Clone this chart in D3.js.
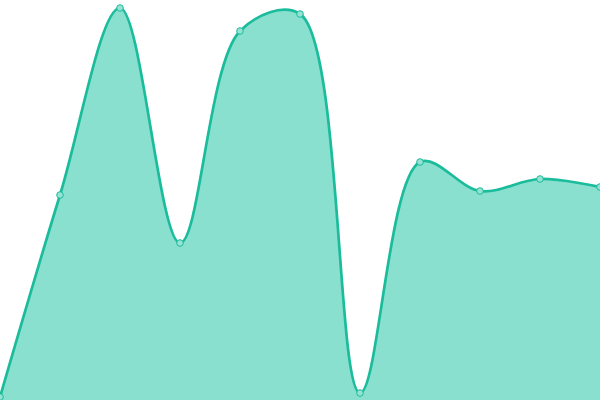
<!DOCTYPE html>
<html>
<head>
<meta charset="utf-8">
<script src="https://cdn.jsdelivr.net/npm/d3@7"></script>
<style>
  html, body { margin: 0; padding: 0; background: #fff; }
  svg { display: block; }
</style>
</head>
<body>
<div id="chart"></div>
<script>
// data
const labels = ["1", "2", "3", "4", "5", "6", "7", "8", "9", "10", "11"];
const values = [3, 205, 392, 157, 369, 386, 7, 238, 209, 221, 213];

const width = 600, height = 400;

const svg = d3.select("#chart")
    .append("svg")
    .attr("width", width)
    .attr("height", height);

const x = d3.scalePoint()
    .domain(labels)
    .range([0, width]);

const y = d3.scaleLinear()
    .domain([0, 400])
    .range([height, 0]);

const points = labels.map((l, i) => ({label: l, value: values[i]}));

// filled area
const area = d3.area()
    .x(d => x(d.label))
    .y0(height)
    .y1(d => y(d.value))
    .curve(d3.curveCatmullRom);

svg.append("path")
    .datum(points)
    .attr("d", area)
    .attr("fill", "#8ae0cf");

// line on top
const line = d3.line()
    .x(d => x(d.label))
    .y(d => y(d.value))
    .curve(d3.curveCatmullRom);

svg.append("path")
    .datum(points)
    .attr("d", line)
    .attr("fill", "none")
    .attr("stroke", "#1abc9c")
    .attr("stroke-width", 2.7);

// point markers
svg.selectAll(".dot")
    .data(points)
    .enter().append("circle")
    .attr("class", "dot")
    .attr("cx", d => x(d.label))
    .attr("cy", d => y(d.value))
    .attr("r", 3.3)
    .attr("fill", "#96e3d3")
    .attr("stroke", "#1abc9c")
    .attr("stroke-width", 1);
</script>
</body>
</html>
